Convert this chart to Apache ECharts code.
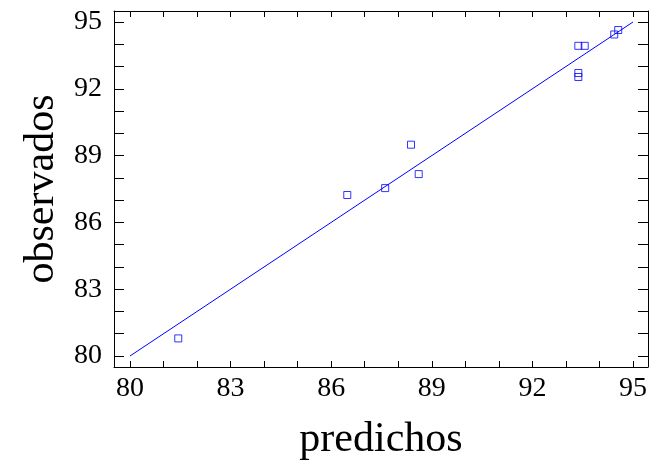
<!DOCTYPE html>
<html><head><meta charset="utf-8">
<script src="https://cdn.jsdelivr.net/npm/echarts@6/dist/echarts.min.js"></script>
<style>html,body{margin:0;padding:0;background:#fff}#c{width:650px;height:466px}</style>
</head><body><div id="c"></div>
<script>
var predichos = [81.44, 86.48, 87.61, 88.38, 88.61, 93.37, 93.56, 93.37, 93.37, 94.44, 94.56];
var observados = [80.79, 87.23, 87.54, 89.49, 88.17, 93.93, 93.93, 92.71, 92.53, 94.44, 94.64];
var lineX = [80, 95];
var lineY = [80, 95];
var xLabels = [80, 83, 86, 89, 92, 95];
var yLabels = [80, 83, 86, 89, 92, 95];
var tickValues = [80,81,82,83,84,85,86,87,88,89,90,91,92,93,94,95];

var font = '"Liberation Serif", "DejaVu Serif", serif';
var chart = echarts.init(document.getElementById('c'), null, {renderer: 'canvas'});
function xAx(pos, show) {
  return {
    type: 'value', position: pos, min: 79.524, max: 95.446,
    name: show ? 'predichos' : '', nameLocation: 'middle', nameGap: 52,
    nameTextStyle: {fontFamily: font, fontSize: 42, color: '#000'},
    axisLine: {show: true, onZero: false, lineStyle: {color: '#000', width: 1}},
    axisTick: {show: true, inside: true, length: 6, customValues: tickValues, lineStyle: {color: '#000'}},
    axisLabel: {show: show, customValues: xLabels, margin: 8, fontFamily: font, fontSize: 28, color: '#000'},
    splitLine: {show: false}
  };
}
function yAx(pos, show) {
  return {
    type: 'value', position: pos, min: 79.506, max: 95.494,
    name: show ? 'observados' : '', nameLocation: 'middle', nameGap: 50, nameRotate: 90,
    nameTextStyle: {fontFamily: font, fontSize: 42, color: '#000'},
    axisLine: {show: true, onZero: false, lineStyle: {color: '#000', width: 1}},
    axisTick: {show: true, inside: true, length: 10, customValues: tickValues, lineStyle: {color: '#000'}},
    axisLabel: {show: show, customValues: yLabels, margin: 12, fontFamily: font, fontSize: 28, color: '#000'},
    splitLine: {show: false}
  };
}
chart.setOption({
  animation: false,
  backgroundColor: '#fff',
  grid: {left: 114, right: 1, top: 11, bottom: 99, containLabel: false},
  xAxis: [xAx('bottom', true), xAx('top', false)],
  yAxis: [yAx('left', true), yAx('right', false)],
  series: [
    {type: 'line', data: lineX.map(function(v, i){ return [v, lineY[i]]; }),
     showSymbol: false, symbol: 'none', lineStyle: {color: '#0000ff', width: 1}, silent: true},
    {type: 'scatter', data: predichos.map(function(v, i){ return [v, observados[i]]; }),
     symbol: 'rect', symbolSize: 7,
     itemStyle: {color: 'rgba(0,0,0,0)', borderColor: '#0000ff', borderWidth: 1}}
  ]
});
</script></body></html>
